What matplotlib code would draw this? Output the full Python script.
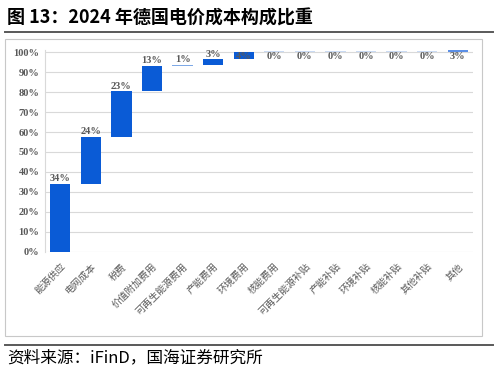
import matplotlib.pyplot as plt
import matplotlib.patches as patches

plt.rcParams['font.family'] = ['Noto Sans CJK SC', 'DejaVu Sans']

categories = ["能源供应", "电网成本", "税费", "价值附加费用", "可再生能源费用", "产能费用",
              "环境费用", "核能费用", "可再生能源补贴", "产能补贴", "环境补贴", "核能补贴",
              "其他补贴", "其他"]
values = [34.0, 23.5, 22.9, 12.8, 0.6, 2.6, 3.6, 0, 0, 0, 0, 0, 0, 3.0]
colors = ["#0A5BD6", "#0A5BD6", "#0A5BD6", "#0A5BD6", "#7EA9E6", "#0A5BD6", "#0A5BD6",
          "#C9DAF3", "#C9DAF3", "#C9DAF3", "#C9DAF3", "#C9DAF3", "#C9DAF3", "#5B8FE6"]

# waterfall bottoms
bottoms = []
acc = 0
for v in values:
    bottoms.append(min(acc, 100))
    acc += v

fig = plt.figure(figsize=(4.98, 3.75), dpi=100)

# title, rules, frame
fig.text(7 / 498, 1 - 18 / 375, "图 13：2024 年德国电价成本构成比重", fontsize=13,
         fontweight="bold", va="center", ha="left")
fig.add_artist(plt.Line2D([5 / 498, 493 / 498], [1 - 32 / 375] * 2, color="#595959", lw=1.4))
fig.add_artist(plt.Line2D([5 / 498, 493 / 498], [1 - 345 / 375] * 2, color="#595959", lw=1.4))
fig.add_artist(patches.Rectangle((5 / 498, 1 - 336 / 375), 477 / 498, 297 / 375,
                                 transform=fig.transFigure, fill=False,
                                 edgecolor="#C8C8C8", lw=0.8))
fig.text(7 / 498, 1 - 358 / 375, "资料来源：iFinD，国海证券研究所", fontsize=12,
         va="center", ha="left")

ax = fig.add_axes([45 / 498, 1 - 251.7 / 375, 428 / 498, 201.8 / 375])
x = range(len(categories))
heights = [max(v, 0.4) for v in values]
ax.bar(x, heights, bottom=bottoms, width=0.66, color=colors, zorder=3)

for i, (v, b) in enumerate(zip(values, bottoms)):
    lab = f"{round(v)}%"
    if i < 6:
        ax.text(i, b + v + 0.3, lab, ha="center", va="bottom", fontsize=7.5,
                family="Liberation Serif", fontweight="bold", color="#595959", zorder=4)
    else:
        ax.text(i, 97.8, lab, ha="center", va="center", fontsize=7.5,
                family="Liberation Serif", fontweight="bold", color="#595959", zorder=4)

ax.set_xlim(-0.5, len(categories) - 0.5)
ax.set_ylim(0, 101.2)
ax.set_yticks(range(0, 101, 10))
ax.set_yticklabels([f"{t}%" for t in range(0, 101, 10)], family="Liberation Serif",
                   fontweight="bold", fontsize=7.5, color="#595959")
ax.set_xticks(list(x))
ax.set_xticklabels(categories, rotation=45, ha="right", rotation_mode="anchor",
                   fontsize=7, color="#595959")
ax.tick_params(length=0)
ax.tick_params(axis="y", pad=4)
ax.tick_params(axis="x", pad=7)
ax.grid(axis="y", color="#D9D9D9", lw=0.8, zorder=0)
for s in ["top", "right", "bottom"]:
    ax.spines[s].set_visible(False)
ax.spines["left"].set_color("#D9D9D9")

plt.savefig("out.png", dpi=100)
